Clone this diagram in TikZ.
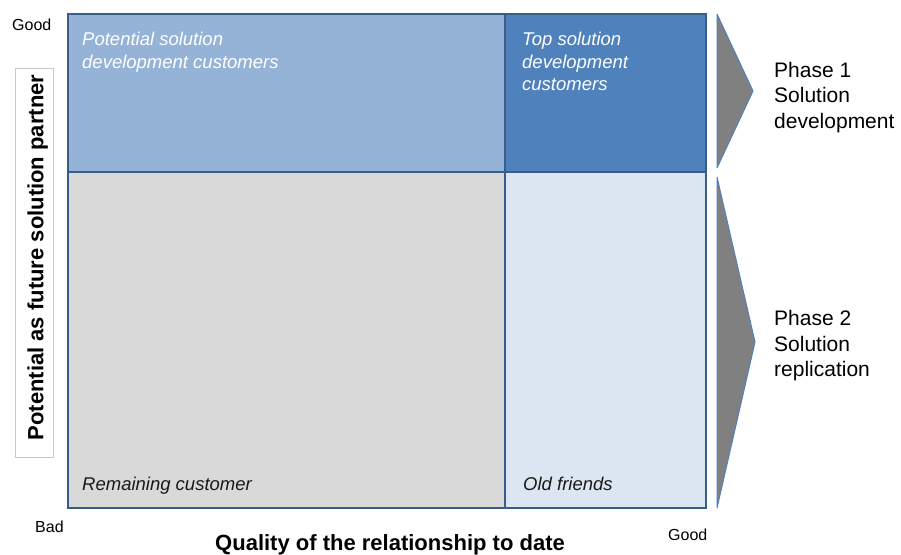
\documentclass[tikz,border=0pt]{standalone}
\usepackage{fontspec}
\setmainfont{Liberation Sans}
\definecolor{frame}{RGB}{56,93,138}
\definecolor{qtl}{RGB}{149,179,215}
\definecolor{qtr}{RGB}{79,129,189}
\definecolor{qbl}{RGB}{217,217,217}
\definecolor{qbr}{RGB}{220,230,242}
\definecolor{tri}{RGB}{128,128,128}
\definecolor{triline}{RGB}{79,129,189}
\definecolor{boxline}{RGB}{200,200,200}
\tikzset{
  quad/.style={draw=frame, line width=2.6pt},
  phasetri/.style={fill=tri, draw=triline, line width=1pt, line join=bevel},
  qtext/.style={font=\fontsize{18.5}{22.5}\selectfont\itshape, anchor=base west, align=left, inner sep=0pt},
  phasetext/.style={font=\fontsize{21}{25.5}\selectfont, anchor=base west, align=left, inner sep=0pt},
  axislabel/.style={font=\fontsize{22}{26}\selectfont\bfseries, inner sep=0pt},
  endlabel/.style={font=\fontsize{16}{19}\selectfont, anchor=base west, inner sep=0pt},
}
\begin{document}
\begin{tikzpicture}[x=1pt,y=-1pt]
\useasboundingbox (0,0) rectangle (901,554);
% quadrants
\path[quad, fill=qtl] (68,14) rectangle (505,172);
\path[quad, fill=qtr] (505,14) rectangle (706,172);
\path[quad, fill=qbl] (68,172) rectangle (505,508);
\path[quad, fill=qbr] (505,172) rectangle (706,508);
% (multi-line nodes: anchor is the baseline of the last line)
\node[qtext, text=white] (tl) at (82,68.2) {Potential solution\\development customers};
\node[qtext, text=white] (tr) at (522,90.7) {Top solution\\development\\customers};
\node[qtext, text=black!90] (bl) at (82,490) {Remaining customer};
\node[qtext, text=black!90] (br) at (523,490) {Old friends};
% phase triangles
\path[phasetri] (717,14) -- (753,91) -- (717,168) -- cycle;
\path[phasetri] (717,177) -- (755,342) -- (717,508) -- cycle;
\node[phasetext] (p1) at (774,128) {Phase 1\\Solution\\development};
\node[phasetext] (p2) at (774,376.5) {Phase 2\\Solution\\replication};
% vertical axis label box
\draw[boxline, line width=0.8pt, fill=white] (15,68) rectangle (53,457);
\node[axislabel, rotate=90, anchor=base] (ylab) at (43.3,257.5) {Potential as future solution partner};
% axis ends
\node[endlabel] (ygood) at (12,30.5) {Good};
\node[endlabel] (xbad) at (35,532) {Bad};
\node[endlabel] (xgood) at (668,540) {Good};
\node[axislabel, anchor=base] (xlab) at (390,550) {Quality of the relationship to date};
\end{tikzpicture}
\end{document}
